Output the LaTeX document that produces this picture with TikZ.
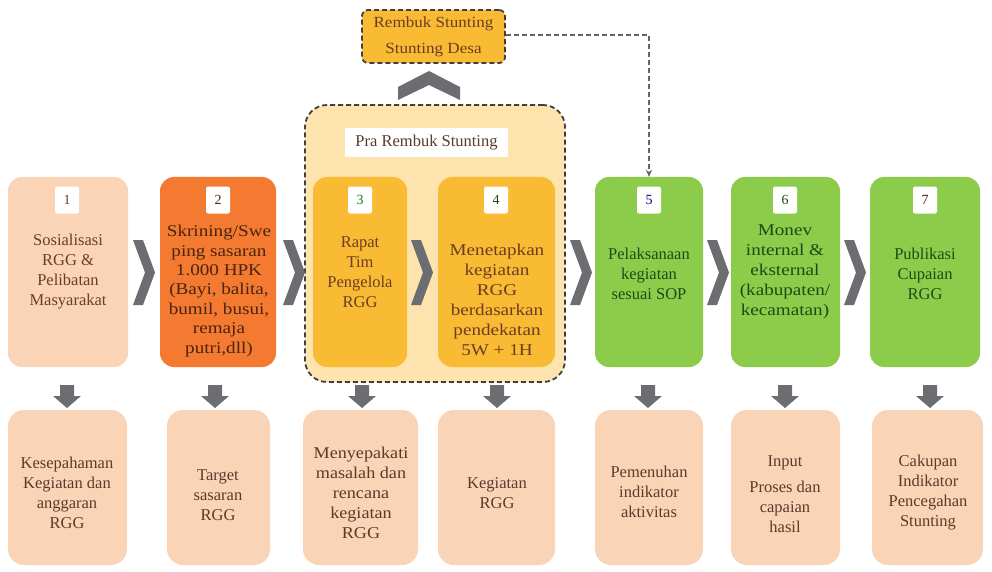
\documentclass[tikz,border=0pt]{standalone}
\usepackage{fontspec}
\setmainfont{Liberation Serif}
\newfontfamily\widefont[FakeStretch=1.16]{Liberation Serif}
\newfontfamily\midfont[FakeStretch=1.1]{Liberation Serif}
\usetikzlibrary{arrows.meta}
\definecolor{peach}{HTML}{FAD4B6}
\definecolor{orng}{HTML}{F37A30}
\definecolor{gold}{HTML}{F9BA34}
\definecolor{cont}{HTML}{FDE4AF}
\definecolor{grn}{HTML}{8DCB4A}
\definecolor{chev}{HTML}{6B6D70}
\definecolor{brn}{HTML}{6B3E22}
\definecolor{dbrn}{HTML}{4A2410}
\definecolor{dgrn}{HTML}{1F4A16}
\definecolor{btxt}{HTML}{5A3A2A}
\tikzset{
  stepbox/.style={draw=none, rounded corners=14pt, minimum width=#1, minimum height=190pt, inner sep=0pt},
  outbox/.style={draw=none, fill=peach, rounded corners=16pt, minimum width=#1, minimum height=155pt, inner sep=0pt},
  txt/.style={align=center, font=\fontsize{16.5}{20}\selectfont, inner sep=0pt},
  wtxt/.style={align=center, font=\widefont\fontsize{16.5}{20}\selectfont, inner sep=0pt},
  mtxt/.style={align=center, font=\midfont\fontsize{16.5}{20}\selectfont, inner sep=0pt},
  badge/.style={fill=white, rounded corners=2pt, minimum width=24pt, minimum height=27pt, inner sep=0pt, font=\fontsize{14}{14}\selectfont},
}
\begin{document}
\begin{tikzpicture}[x=1pt,y=-1pt]
\useasboundingbox (0,0) rectangle (992,572);
% container
\node[draw=black!75, line width=1.8pt, dash pattern=on 5pt off 3pt, fill=cont, rounded corners=22pt, minimum width=260pt, minimum height=277pt, inner sep=0pt] (pra) at (435,243.5) {};
\node[fill=white, minimum width=163pt, minimum height=29pt, inner sep=0pt, text=btxt, font=\fontsize{16.5}{18}\selectfont] (pralbl) at (426.5,142.5) {Pra Rembuk Stunting};
% top boxes
\node[stepbox=120pt, fill=peach] (s1) at (68,272) {};
\node[stepbox=116pt, fill=orng] (s2) at (218,272) {};
\node[stepbox=94pt, fill=gold] (s3) at (360,272) {};
\node[stepbox=117pt, fill=gold] (s4) at (496.5,272) {};
\node[stepbox=108pt, fill=grn] (s5) at (649,272) {};
\node[stepbox=109pt, fill=grn] (s6) at (785.5,272) {};
\node[stepbox=110pt, fill=grn] (s7) at (925,272) {};
% badges
\node[badge, text=brn] (b1) at (67,200) {1};
\node[badge, text=dbrn] (b2) at (218,200) {2};
\node[badge, text=dgrn!70!green] (b3) at (360,200) {3};
\node[badge, text=dgrn] (b4) at (496,200) {4};
\node[badge, text=blue!50!black] (b5) at (649,200) {5};
\node[badge, text=dgrn] (b6) at (785,200) {6};
\node[badge, text=dbrn] (b7) at (925,200) {7};
% top texts
\node[txt, text=brn] (t1) at (68,272) {Sosialisasi\\RGG \&\\Pelibatan\\Masyarakat};
\node[wtxt, text=dbrn, font=\widefont\fontsize{16.5}{19.4}\selectfont] (t2) at (219,291) {Skrining/Swe\\ping sasaran\\1.000 HPK\\(Bayi, balita,\\bumil, busui,\\remaja\\putri,dll)};
\node[txt, text=brn] (t3) at (360,272) {Rapat\\Tim\\Pengelola\\RGG};
\node[wtxt, text=brn] (t4) at (497,300) {Menetapkan\\kegiatan\\RGG\\berdasarkan\\pendekatan\\5W + 1H};
\node[txt, text=dgrn] (t5) at (649,274) {Pelaksanaan\\kegiatan\\sesuai SOP};
\node[wtxt, text=dgrn] (t6) at (785,272) {Monev\\internal \&\\eksternal\\(kabupaten/\\kecamatan)};
\node[txt, text=dgrn] (t7) at (925,274) {Publikasi\\Cupaian\\RGG};
% chevrons
\foreach \x in {133,283,411,570,707,844}{
  \fill[chev] (\x,240) -- (\x+10,240) -- (\x+22,272.5) -- (\x+10,305) -- (\x,305) -- (\x+12,272.5) -- cycle;
}
% rembuk desa
\node[draw=black!75, line width=1.8pt, dash pattern=on 5pt off 3pt, fill=gold, rounded corners=6pt, minimum width=143pt, minimum height=53pt, inner sep=0pt, align=center, text=brn, font=\midfont\fontsize{15.5}{26}\selectfont] (desa) at (433.5,36.5) {Rembuk Stunting\\Stunting Desa};
\fill[chev] (398,87) -- (429,71) -- (460,87) -- (460,100) -- (429,85) -- (398,100) -- cycle;
\coordinate (turn) at (649,35);
\draw[chev!90!black, line width=1.5pt, dash pattern=on 5pt off 3pt, -{Stealth[length=7pt,width=6pt]}] (desa.east |- turn) -- (turn) -- (s5.north);
% bottom boxes
\node[outbox=119pt] (o1) at (67.5,487.5) {};
\node[outbox=103pt] (o2) at (218.5,487.5) {};
\node[outbox=115pt] (o3) at (360.5,487.5) {};
\node[outbox=117pt] (o4) at (496.5,487.5) {};
\node[outbox=108pt] (o5) at (649,487.5) {};
\node[outbox=109pt] (o6) at (785.5,487.5) {};
\node[outbox=111pt] (o7) at (927.5,487.5) {};
\node[txt, text=btxt] (u1) at (67,493) {Kesepahaman\\Kegiatan dan\\anggaran\\RGG};
\node[txt, text=btxt] (u2) at (218,495) {Target\\sasaran\\RGG};
\node[mtxt, text=btxt] (u3) at (361,493) {Menyepakati\\masalah dan\\rencana\\kegiatan\\RGG};
\node[txt, text=btxt] (u4) at (497,493) {Kegiatan\\RGG};
\node[txt, text=btxt] (u5) at (649,492) {Pemenuhan\\indikator\\aktivitas};
\node[txt, text=btxt] (u6) at (785,494) {Input\\[6pt]Proses dan\\capaian\\hasil};
\node[txt, text=btxt] (u7) at (928,493) {Cakupan\\Indikator\\Pencegahan\\Stunting};
% down arrows
\foreach \x in {67,215,362,497,648,785,930}{
  \fill[chev] (\x-7,385) -- (\x+7,385) -- (\x+7,396) -- (\x+14,396) -- (\x,408) -- (\x-14,396) -- (\x-7,396) -- cycle;
}
\end{tikzpicture}
\end{document}
